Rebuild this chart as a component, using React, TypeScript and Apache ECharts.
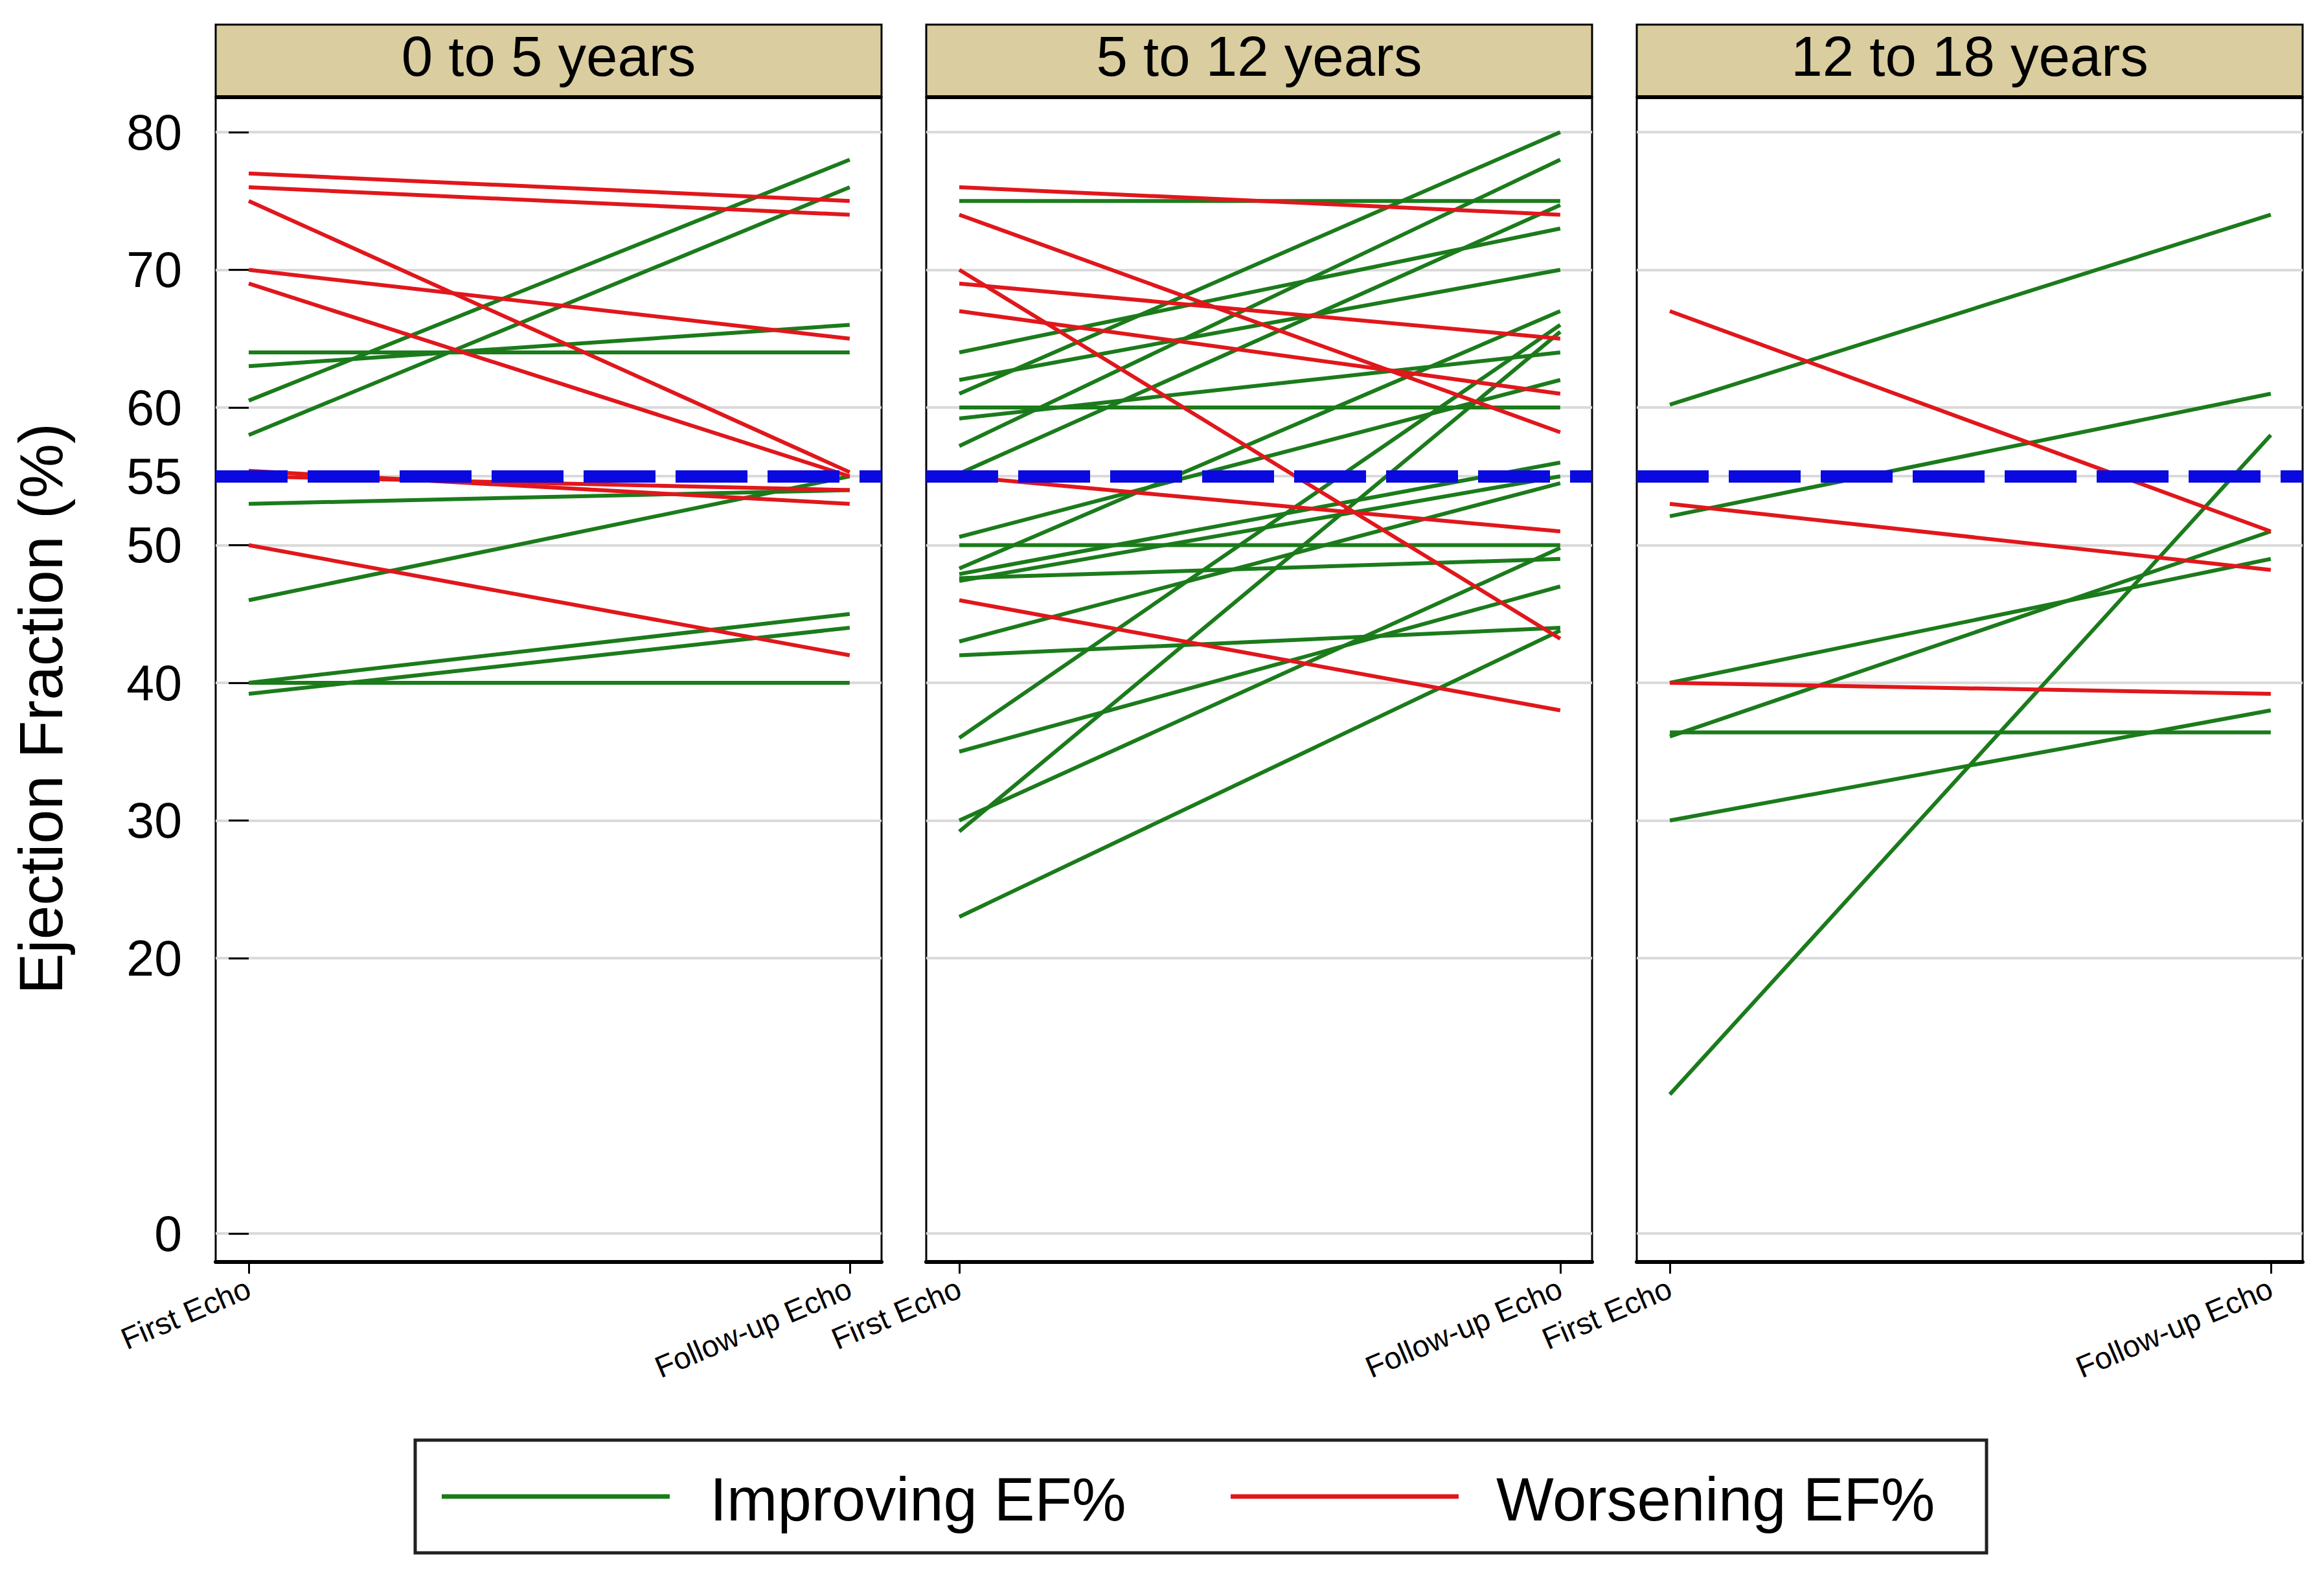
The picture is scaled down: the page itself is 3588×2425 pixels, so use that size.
import React, { useEffect, useRef } from 'react';
import * as echarts from 'echarts';

// ---------- data ----------
const PANEL_TITLES = ['0 to 5 years', '5 to 12 years', '12 to 18 years'];
const X_LABELS = ['First Echo', 'Follow-up Echo'];
const Y_TICKS = [0, 20, 30, 40, 50, 55, 60, 70, 80];
const THRESHOLD = 55;
const LEGEND_NAMES = ['Improving EF%', 'Worsening EF%'];

// 0 to 5 years
const P1_IMPROVING_FIRST = [60.5, 58, 64, 63, 53, 46, 40, 39.2, 40];
const P1_IMPROVING_FOLLOW = [78, 76, 64, 66, 54, 55, 45, 44, 40];
const P1_WORSENING_FIRST = [77, 76, 75, 70, 69, 55.4, 55, 50];
const P1_WORSENING_FOLLOW = [75, 74, 55.3, 65, 55, 53, 54, 42];

// 5 to 12 years
const P2_IMPROVING_FIRST = [75, 64, 62, 61, 60, 59.2, 57.2, 55.2, 50.6, 50, 48.3, 47.9, 47.6, 47.4, 43, 42, 36, 35, 30, 29.2, 23];
const P2_IMPROVING_FOLLOW = [75, 73, 70, 80, 60, 64, 78, 74.7, 62, 50, 67, 56, 49, 55, 54.5, 44, 66, 47, 49.8, 65.5, 43.8];
const P2_WORSENING_FIRST = [76, 74, 70, 69, 67, 55, 46];
const P2_WORSENING_FOLLOW = [74, 58.2, 43.2, 65, 61, 51, 38];

// 12 to 18 years
const P3_IMPROVING_FIRST = [60.2, 52.1, 40, 36.1, 36.4, 30, 10.1];
const P3_IMPROVING_FOLLOW = [74, 61, 49, 51, 36.4, 38, 58];
const P3_WORSENING_FIRST = [67, 53, 40];
const P3_WORSENING_FOLLOW = [51, 48.2, 39.2];

const PANELS = [
  { imp: [P1_IMPROVING_FIRST, P1_IMPROVING_FOLLOW], wor: [P1_WORSENING_FIRST, P1_WORSENING_FOLLOW] },
  { imp: [P2_IMPROVING_FIRST, P2_IMPROVING_FOLLOW], wor: [P2_WORSENING_FIRST, P2_WORSENING_FOLLOW] },
  { imp: [P3_IMPROVING_FIRST, P3_IMPROVING_FOLLOW], wor: [P3_WORSENING_FIRST, P3_WORSENING_FOLLOW] },
];

// ---------- style / layout ----------
const W = 3588;
const H = 2425;
const FONT = '"Liberation Sans", Arial, Helvetica, sans-serif';
const GREEN = '#1b7b1b';
const RED = '#e0171c';
const BLUE = '#0a0ae0';
const TAN = '#dacd9f';
const GRID_GRAY = '#dadada';
const PANEL_LEFT = [333, 1430, 2527];
const PANEL_W = 1028;
const PLOT_TOP = 150;
const PLOT_BOTTOM = 1948;
const HEAD_TOP = 38;

export default function App() {
  const ref = useRef<HTMLDivElement>(null);

  useEffect(() => {
    if (!ref.current) return;
    const chart = echarts.init(ref.current, null, { renderer: 'svg', width: W, height: H });

    const grids = PANEL_LEFT.map((left) => ({
      left,
      top: PLOT_TOP,
      width: PANEL_W,
      height: PLOT_BOTTOM - PLOT_TOP,
      show: true,
      backgroundColor: '#ffffff',
      borderColor: '#000000',
      borderWidth: 3,
      containLabel: false,
    }));

    const xAxes = PANEL_LEFT.map((_, i) => ({
      type: 'value',
      gridIndex: i,
      min: -0.055,
      max: 1.053,
      axisLine: { show: true, onZero: false, lineStyle: { color: '#000', width: 6 } },
      axisTick: { show: true, customValues: [0, 1], length: 18, lineStyle: { color: '#000', width: 3 } },
      axisLabel: {
        show: true,
        customValues: [0, 1],
        formatter: (v: number) => X_LABELS[Math.round(v)],
        rotate: 23,
        margin: 38,
        fontSize: 47,
        fontFamily: FONT,
        color: '#000',
      },
      splitLine: { show: false },
    }));

    const yAxes = PANEL_LEFT.map((_, i) => ({
      type: 'value',
      gridIndex: i,
      min: -2.07,
      max: 82.54,
      axisLine: { show: false },
      axisTick: { show: i === 0, customValues: Y_TICKS, length: 31, lineStyle: { color: '#000', width: 3 } },
      axisLabel: {
        show: i === 0,
        customValues: Y_TICKS,
        margin: 52,
        fontSize: 77,
        fontFamily: FONT,
        color: '#000',
      },
      splitLine: { show: true, lineStyle: { color: GRID_GRAY, width: 4 } },
    }));

    const series: any[] = [];
    PANELS.forEach((p, i) => {
      series.push({
        type: 'line',
        xAxisIndex: i,
        yAxisIndex: i,
        data: [],
        z: 1,
        silent: true,
        markLine: {
          silent: true,
          symbol: 'none',
          label: { show: false },
          lineStyle: { color: BLUE, width: 19, type: [111, 31], opacity: 1 },
          data: [{ yAxis: THRESHOLD }],
        },
      });
      const groups: [number[][], string, string][] = [
        [p.imp, GREEN, LEGEND_NAMES[0]],
        [p.wor, RED, LEGEND_NAMES[1]],
      ];
      groups.forEach(([arr, color, name]) => {
        arr[0].forEach((first, k) => {
          series.push({
            type: 'line',
            name,
            xAxisIndex: i,
            yAxisIndex: i,
            data: [
              [0, first],
              [1, arr[1][k]],
            ],
            symbol: 'none',
            silent: true,
            z: 2,
            lineStyle: { color, width: 6 },
          });
        });
      });
    });

    const graphic: any[] = [];
    PANEL_LEFT.forEach((left, i) => {
      graphic.push({
        type: 'rect',
        shape: { x: left, y: HEAD_TOP, width: PANEL_W, height: PLOT_TOP - HEAD_TOP },
        style: { fill: TAN, stroke: '#000', lineWidth: 3 },
        z: 10,
      });
      graphic.push({
        type: 'line',
        shape: { x1: left, y1: PLOT_TOP, x2: left + PANEL_W, y2: PLOT_TOP },
        style: { stroke: '#000', lineWidth: 6 },
        z: 11,
      });
      graphic.push({
        type: 'text',
        x: left + PANEL_W / 2,
        y: 86,
        style: {
          text: PANEL_TITLES[i],
          fontSize: 87,
          fontFamily: FONT,
          fill: '#000',
          align: 'center',
          verticalAlign: 'middle',
        },
        z: 12,
      });
    });

    graphic.push({
      type: 'text',
      x: 63,
      y: 1094,
      rotation: Math.PI / 2,
      style: {
        text: 'Ejection Fraction (%)',
        fontSize: 95,
        fontFamily: FONT,
        fill: '#000',
        align: 'center',
        verticalAlign: 'middle',
      },
      z: 12,
    });

    // legend box
    graphic.push({
      type: 'rect',
      shape: { x: 641, y: 2223, width: 2426, height: 174 },
      style: { fill: '#fff', stroke: '#222', lineWidth: 5 },
      z: 10,
    });
    const legendItems = [
      { x1: 682, x2: 1034, tx: 1096, color: GREEN, name: LEGEND_NAMES[0] },
      { x1: 1900, x2: 2252, tx: 2310, color: RED, name: LEGEND_NAMES[1] },
    ];
    legendItems.forEach((it) => {
      graphic.push({
        type: 'line',
        shape: { x1: it.x1, y1: 2310, x2: it.x2, y2: 2310 },
        style: { stroke: it.color, lineWidth: 7 },
        z: 11,
      });
      graphic.push({
        type: 'text',
        x: it.tx,
        y: 2314,
        style: {
          text: it.name,
          fontSize: 94,
          fontFamily: FONT,
          fill: '#000',
          align: 'left',
          verticalAlign: 'middle',
        },
        z: 11,
      });
    });

    chart.setOption({
      animation: false,
      backgroundColor: '#ffffff',
      grid: grids,
      xAxis: xAxes,
      yAxis: yAxes,
      series,
      graphic,
    });

    return () => chart.dispose();
  }, []);

  return (
    <div
      ref={ref}
      style={{ position: 'fixed', left: 0, top: 0, width: W, height: H, background: '#fff' }}
    />
  );
}
